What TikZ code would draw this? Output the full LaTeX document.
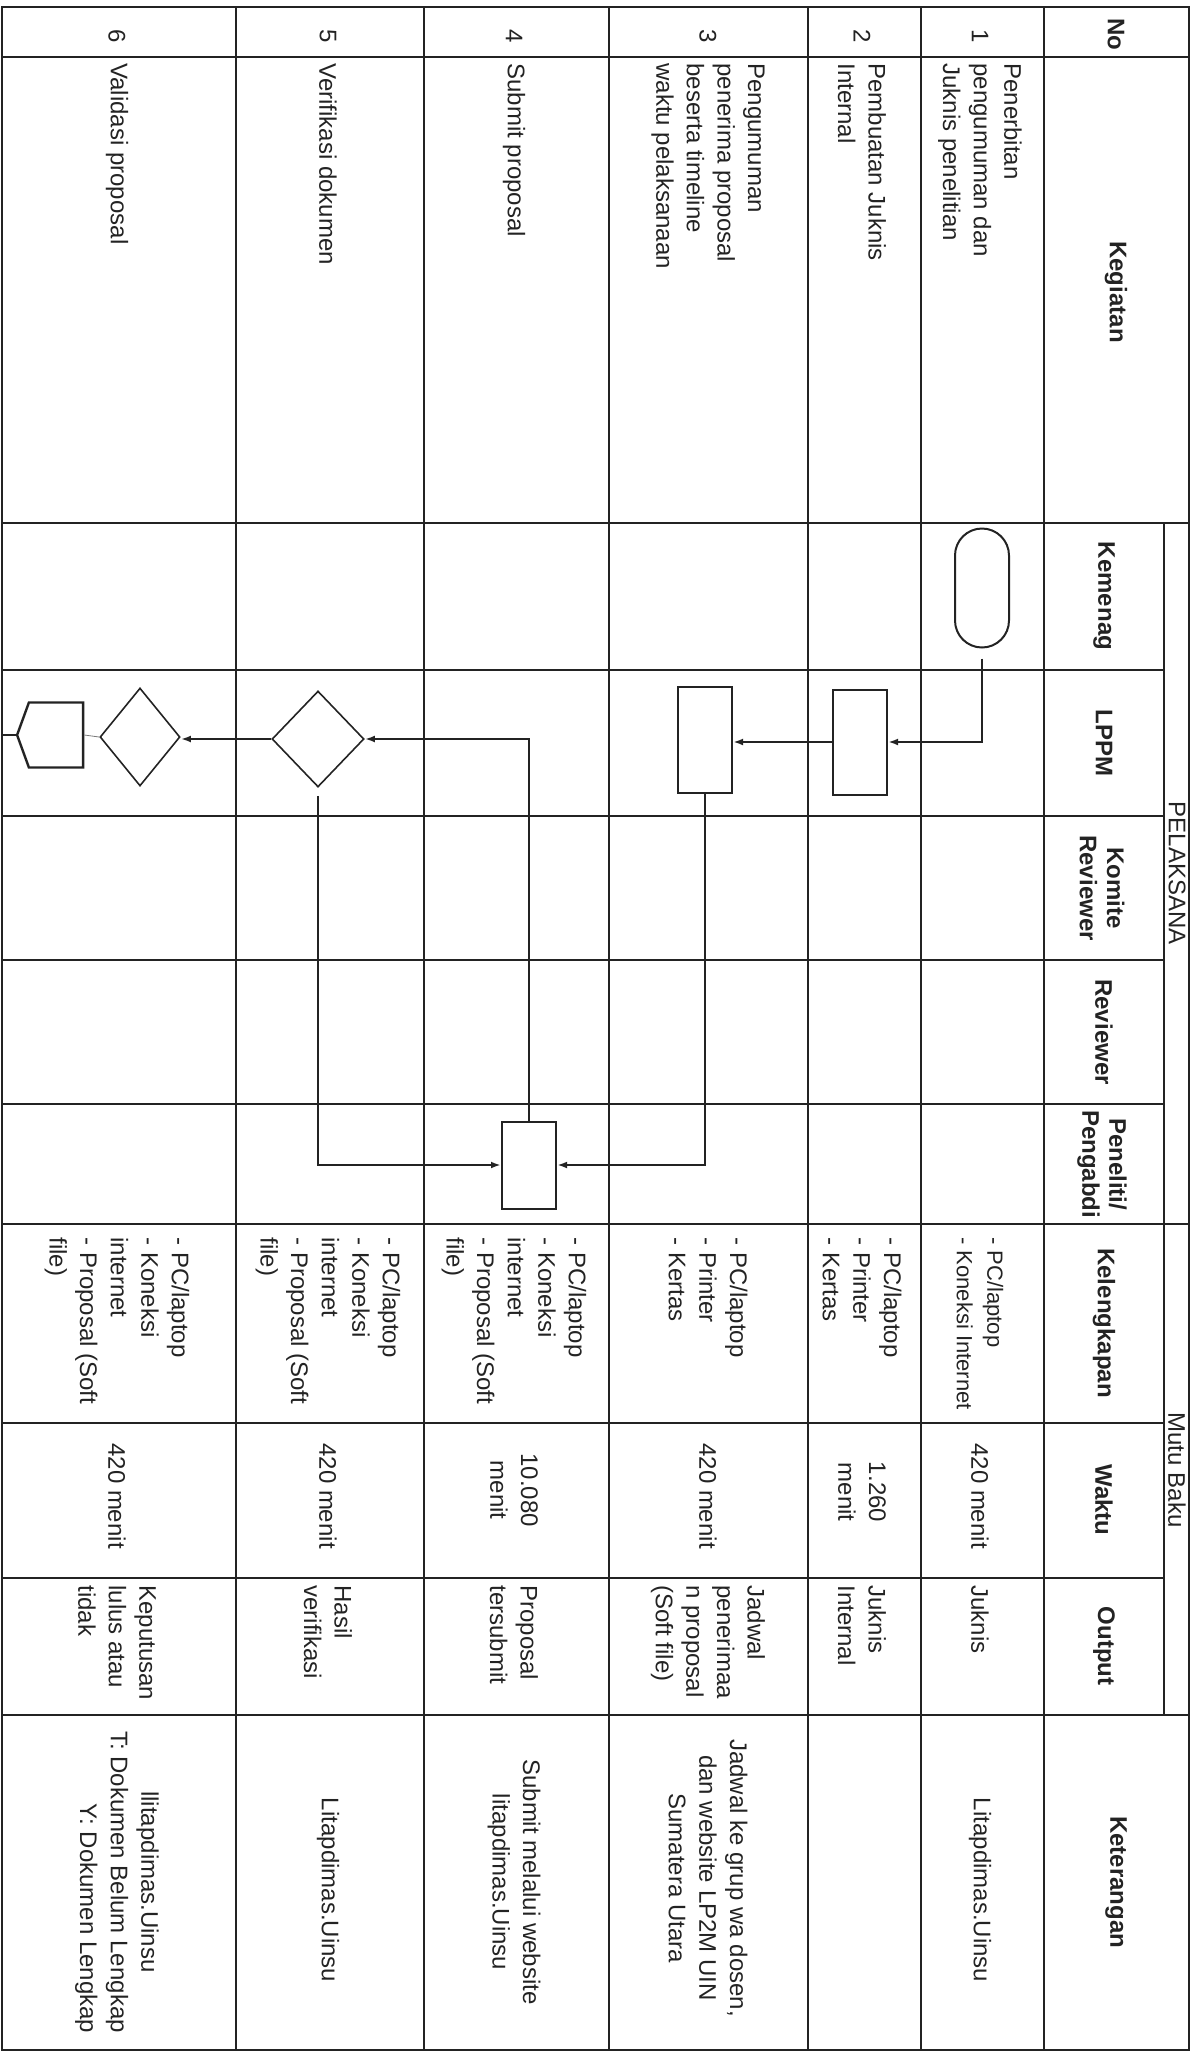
\documentclass[tikz,border=0pt]{standalone}
\usepackage{fontspec}
\setmainfont{Liberation Sans}
\usetikzlibrary{arrows.meta,shapes.geometric,shapes.symbols}
\definecolor{ink}{RGB}{35,35,35}
\newcommand{\cellfont}{\fontsize{12}{15.3}\selectfont}
\newcommand{\hdfont}{\fontsize{12}{13.6}\selectfont\bfseries}
\tikzset{
  >={Latex[length=5pt,width=3.4pt]},
  tline/.style={draw=ink,line width=0.7pt},
  cell/.style={rotate=-90,inner sep=0pt,text=ink,font=\cellfont},
  lcell/.style={cell,anchor=west,align=left},
  ccell/.style={cell,align=center},
  head/.style={cell,align=center,font=\hdfont},
  proc/.style={draw=ink,line width=1pt,minimum width=27pt,inner sep=0pt},
  term/.style={proc,rounded corners=13.5pt,minimum height=59.5pt},
  dec/.style={diamond,draw=ink,line width=0.8pt,inner sep=0pt},
  offpage/.style={signal,signal to=west,signal pointer angle=140,draw=ink,line width=1.2pt,
    inner sep=0pt,minimum width=33pt,minimum height=32.5pt},
  flow/.style={->,draw=ink,line width=1pt},
}
\begin{document}
\begin{tikzpicture}[x=0.5pt,y=-0.5pt]
  \useasboundingbox (0,0) rectangle (1202,2056);
  % table
  \draw[tline,line width=0.9pt] (2,7) rectangle (1189,2050);
  \foreach \x in {236,424,609,808,921,1044} \draw[tline] (\x,7) -- (\x,2050);
  \foreach \y in {57,523,1224,1715} \draw[tline] (2,\y) -- (1189,\y);
  \foreach \y in {670,816,960,1104,1423,1578} \draw[tline] (2,\y) -- (1164,\y);
  \draw[tline] (1164,523) -- (1164,1715);

  % header
  \node[head] (hno) at (1116,34) {No};
  \node[head] (hkeg) at (1116,292) {Kegiatan};
  \node[ccell] (hpel) at (1177,873) {PELAKSANA};
  \node[ccell] (hmutu) at (1177,1470) {Mutu Baku};
  \node[head] (hkem) at (1104,596) {Kemenag};
  \node[head] (hlppm) at (1104,743) {LPPM};
  \node[head] (hkom) at (1102,888) {Komite\\Reviewer};
  \node[head] (hrev) at (1104,1032) {Reviewer};
  \node[head] (hpen) at (1102,1164) {Peneliti/\\Pengabdi};
  \node[head] (hkel) at (1104,1323) {Kelengkapan};
  \node[head] (hwak) at (1104,1500) {Waktu};
  \node[head] (hout) at (1104,1646) {Output};
  \node[head] (hket) at (1116,1882) {Keterangan};

  \foreach \n/\r in {1/980,2/862,3/708,4/514,5/328,6/117}
    \node[ccell] (no\n) at (\r,36) {\n};

  % kegiatan
  \node[lcell] (keg1) at (980,63) {Penerbitan\\pengumuman dan\\Juknis penelitian};
  \node[lcell] (keg2) at (862,63) {Pembuatan Juknis\\Internal};
  \node[lcell] (keg3) at (708,63) {Pengumuman\\penerima proposal\\beserta timeline\\waktu pelaksanaan};
  \node[lcell] (keg4) at (514,63) {Submit proposal};
  \node[lcell] (keg5) at (328,63) {Verifikasi dokumen};
  \node[lcell] (keg6) at (117,63) {Validasi proposal};

  % kelengkapan
  \node[lcell,font=\fontsize{11}{15.3}\selectfont] (kel1) at (980,1237) {- PC/laptop\\- Koneksi Internet};
  \node[lcell] (kel2) at (862,1237) {- PC/laptop\\- Printer\\- Kertas};
  \node[lcell] (kel3) at (708,1237) {- PC/laptop\\- Printer\\- Kertas};
  \node[lcell] (kel4) at (514,1237) {- PC/laptop\\- Koneksi\\internet\\- Proposal (Soft\\file)};
  \node[lcell] (kel5) at (328,1237) {- PC/laptop\\- Koneksi\\internet\\- Proposal (Soft\\file)};
  \node[lcell] (kel6) at (117,1237) {- PC/laptop\\- Koneksi\\internet\\- Proposal (Soft\\file)};

  % waktu
  \node[ccell] (wak1) at (980,1496) {420 menit};
  \node[ccell] (wak2) at (862,1492) {1.260\\menit};
  \node[ccell] (wak3) at (708,1496) {420 menit};
  \node[ccell] (wak4) at (514,1490) {10.080\\menit};
  \node[ccell] (wak5) at (328,1496) {420 menit};
  \node[ccell] (wak6) at (117,1496) {420 menit};

  % output
  \node[lcell] (out1) at (980,1585) {Juknis};
  \node[lcell] (out2) at (862,1585) {Juknis\\Internal};
  \node[lcell] (out3) at (708,1585) {Jadwal\\penerimaa\\n proposal\\(Soft file)};
  \node[lcell] (out4) at (514,1585) {Proposal\\tersubmit};
  \node[lcell] (out5) at (328,1585) {Hasil\\verifikasi};
  \node[lcell] (out6) at (117,1585) {Keputusan\\lulus atau\\tidak};

  % keterangan
  \node[ccell] (ket1) at (980,1890) {Litapdimas.Uinsu};
  \node[ccell] (ket3) at (708,1878) {Jadwal ke grup wa dosen,\\dan website LP2M UIN\\Sumatera Utara};
  \node[ccell] (ket4) at (514,1882) {Submit melalui website\\litapdimas.Uinsu};
  \node[ccell] (ket5) at (328,1890) {Litapdimas.Uinsu};
  \node[ccell] (ket6) at (117,1882) {llitapdimas.Uinsu\\T: Dokumen Belum Lengkap\\\hspace*{36.6pt}Y: Dokumen Lengkap};

  % alur
  \node[term] (t1) at (982,588) {};
  \node[proc,minimum height=52.5pt] (p2) at (860,742) {};
  \node[proc,minimum height=53pt] (p3) at (705,740) {};
  \node[proc,minimum height=43.5pt] (p4) at (529,1165) {};
  \node[dec,minimum width=46pt,minimum height=48pt] (d5) at (318,739) {};
  \node[dec,minimum width=40pt,minimum height=49pt] (d6) at (140,737) {};
  \node[offpage] (o6) at (56,735) {};
  \coordinate (lft) at (2,735);

  \draw[flow,shorten <=5pt] (t1.south) |- (p2.east);
  \draw[flow] (p2.west) -- (p2.west -| p3.east);
  \draw[flow] (p3.south) |- (p4.east);
  \draw[flow] (p4.north) |- (d5.east);
  \draw[flow,shorten <=4pt] (d5.south) |- (p4.west);
  \draw[flow] (d5.west) -- (d5.west -| d6.east);
  \draw[draw=ink!60,line width=0.4pt] (d6.west) -- (o6.east);
  \draw[ink,line width=1.3pt] (o6.west) -- (lft);
\end{tikzpicture}
\end{document}
